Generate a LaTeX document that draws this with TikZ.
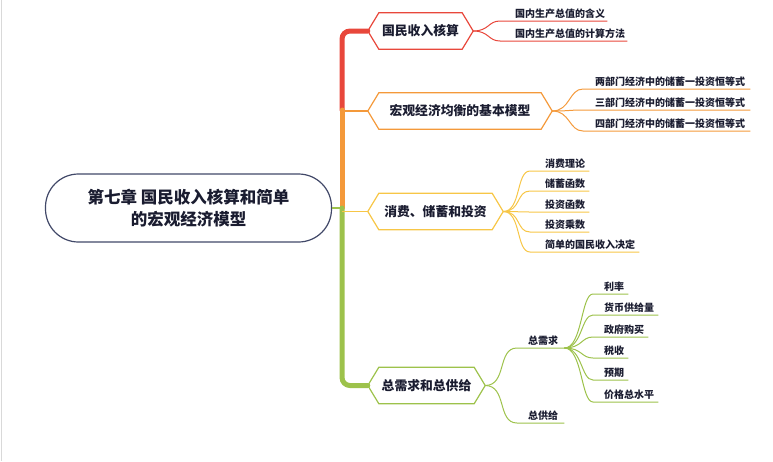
\documentclass[tikz,border=0pt]{standalone}
\usepackage{fontspec}
\setmainfont{Noto Sans CJK SC}
\usetikzlibrary{calc}
\definecolor{cred}{HTML}{E8473B}
\definecolor{corange}{HTML}{F4993A}
\definecolor{cyellow}{HTML}{F7C646}
\definecolor{cgreen}{HTML}{9DC24B}
\definecolor{ctext}{HTML}{1A1C30}
\definecolor{croot}{HTML}{414868}
\newcommand\hexdraw[2]{\draw[#2, line width=1.2pt] (#1.west) -- ([xshift=11pt]#1.north west) -- ([xshift=-11pt]#1.north east) -- (#1.east) -- ([xshift=-11pt]#1.south east) -- ([xshift=11pt]#1.south west) -- cycle;}
\begin{document}
\begin{tikzpicture}[x=1pt,y=-1pt,
  rootbox/.style={draw=croot, line width=1.2pt, rounded corners=33pt, minimum width=286pt, minimum height=68pt, align=center, text=ctext, font=\bfseries\fontsize{16.5}{22}\selectfont, inner sep=0pt},
  topic/.style={minimum height=36pt, inner sep=0pt, text=ctext, font=\bfseries\fontsize{12.8}{14}\selectfont},
  leaf/.style={anchor=south west, inner xsep=0pt, inner ysep=1.5pt, text height=8pt, text depth=2pt, text=ctext, font=\bfseries\fontsize{10}{11}\selectfont},
  trunk/.style={line width=5pt, line cap=round},
  branch/.style={line width=1.8pt},
  twig/.style={line width=1pt}
]
\useasboundingbox (0,0) rectangle (773,461);
\draw[black!15, line width=1pt] (1,0) -- (1,461);

% root
\node[rootbox] (root) at (188.5,208) {第七章 国民收入核算和简单\\的宏观经济模型};

% topics
\node[topic, minimum width=105pt] (h1) at (420.5,31) {国民收入核算};
\node[topic, minimum width=184pt] (h2) at (460,111) {宏观经济均衡的基本模型};
\node[topic, minimum width=135pt] (h3) at (435.5,211.5) {消费、储蓄和投资};
\node[topic, minimum width=117pt] (h4) at (426.5,385.5) {总需求和总供给};
\hexdraw{h1}{cred}
\hexdraw{h2}{corange}
\hexdraw{h3}{cyellow}
\hexdraw{h4}{cgreen}

% trunk
\coordinate (tA) at (342,110);
\coordinate (tB) at (342,208);
\draw[cred, trunk, rounded corners=8pt] (tA) -- (342,31) -- (h1.west);
\draw[corange, trunk] (tB) -- (tA);
\draw[corange, branch] (tA |- h2.west) -- (h2.west);
\draw[cgreen, trunk, rounded corners=8pt] (tB) -- (342,385.5) -- (h4.west);
\draw[cgreen, branch] (root.east) -- (tB);
\draw[cyellow, branch] (tB |- h3.west) -- (h3.west);

% topic 1 leaves
\node[leaf] (a1) at (515,21) {国内生产总值的含义};
\node[leaf] (a2) at (515,41) {国内生产总值的计算方法};
\foreach \n in {a1,a2}
  \draw[cred, twig] (h1.east) .. controls +(16,0) and +(-12,0) .. ([xshift=-15pt]\n.south west) -- ([xshift=2pt]\n.south east);

% topic 2 leaves
\node[leaf] (b1) at (595,89) {两部门经济中的储蓄一投资恒等式};
\node[leaf] (b2) at (595,110) {三部门经济中的储蓄一投资恒等式};
\node[leaf] (b3) at (595,131) {四部门经济中的储蓄一投资恒等式};
\foreach \n in {b1,b2,b3}
  \draw[corange, twig] (h2.east) .. controls +(18,0) and +(-14,0) .. ([xshift=-12pt]\n.south west) -- ([xshift=5pt]\n.south east);

% topic 3 leaves
\node[leaf] (c1) at (545,171) {消费理论};
\node[leaf] (c2) at (545,191) {储蓄函数};
\node[leaf] (c3) at (545,212) {投资函数};
\node[leaf] (c4) at (545,232) {投资乘数};
\node[leaf] (c5) at (545,252) {简单的国民收入决定};
\foreach \n in {c1,c2,c3,c4,c5}
  \draw[cyellow, twig] (h3.east) .. controls +(18,0) and +(-14,0) .. ([xshift=-15pt]\n.south west) -- ([xshift=4pt]\n.south east);

% topic 4
\node[leaf] (d1) at (528,348) {总需求};
\node[leaf] (d2) at (528,423) {总供给};
\foreach \n in {d1,d2}
  \draw[cgreen, twig] (h4.east) .. controls +(22,0) and +(-20,0) .. ([xshift=-11pt]\n.south west) -- ([xshift=6pt]\n.south east);
\coordinate (dEnd) at ([xshift=6pt]d1.south east);

\node[leaf] (e1) at (604,294) {利率};
\node[leaf] (e2) at (604,315) {货币供给量};
\node[leaf] (e3) at (604,337) {政府购买};
\node[leaf] (e4) at (604,358) {税收};
\node[leaf] (e5) at (604,380) {预期};
\node[leaf] (e6) at (604,402) {价格总水平};
\foreach \n in {e1,e2,e3,e4,e5,e6}
  \draw[cgreen, twig] (dEnd) .. controls +(18,0) and +(-12,0) .. ([xshift=-11pt]\n.south west) -- ([xshift=4pt]\n.south east);
\end{tikzpicture}
\end{document}
